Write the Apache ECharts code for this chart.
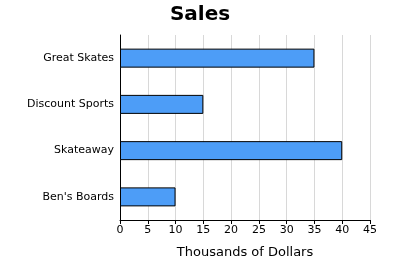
<!DOCTYPE html>
<html><head><meta charset="utf-8">
<script src="https://cdn.jsdelivr.net/npm/echarts@6/dist/echarts.min.js"></script>
<style>html,body{margin:0;padding:0;background:#fff}#c{width:400px;height:270px}</style>
</head><body><div id="c"></div>
<script>
const categories = ["Ben's Boards", "Skateaway", "Discount Sports", "Great Skates"];
const sales = [10, 40, 15, 35];
const xTicks = [0, 5, 10, 15, 20, 25, 30, 35, 40, 45];

const chart = echarts.init(document.getElementById('c'), null, {renderer: 'canvas'});
chart.setOption({
  animation: false,
  backgroundColor: '#fff',
  title: {
    text: 'Sales', left: 'center', top: 0,
    textStyle: {fontFamily: 'DejaVu Sans', fontWeight: 'bold', fontSize: 20, color: '#000'}
  },
  grid: {left: 120, right: 30, top: 35, bottom: 50, containLabel: false},
  xAxis: {
    type: 'value', min: xTicks[0], max: xTicks[xTicks.length - 1], interval: 5,
    name: 'Thousands of Dollars', nameLocation: 'middle', nameGap: 26,
    nameTextStyle: {fontFamily: 'DejaVu Sans', fontSize: 13, color: '#000'},
    axisLine: {show: true, lineStyle: {color: '#000', width: 1}},
    axisTick: {show: true, length: 4, lineStyle: {color: '#000'}},
    axisLabel: {fontFamily: 'DejaVu Sans', fontSize: 11, color: '#000', margin: 5},
    splitLine: {show: true, lineStyle: {color: '#d8d8d8', width: 1}}
  },
  yAxis: {
    type: 'category', data: categories,
    axisLine: {show: true, lineStyle: {color: '#000', width: 1}},
    axisTick: {show: false},
    axisLabel: {fontFamily: 'DejaVu Sans', fontSize: 11, color: '#000', margin: 6},
    splitLine: {show: false}
  },
  series: [{
    type: 'bar', data: sales, barWidth: 19,
    itemStyle: {color: '#4d9df7', borderColor: '#000', borderWidth: 1}
  }]
});
</script></body></html>
